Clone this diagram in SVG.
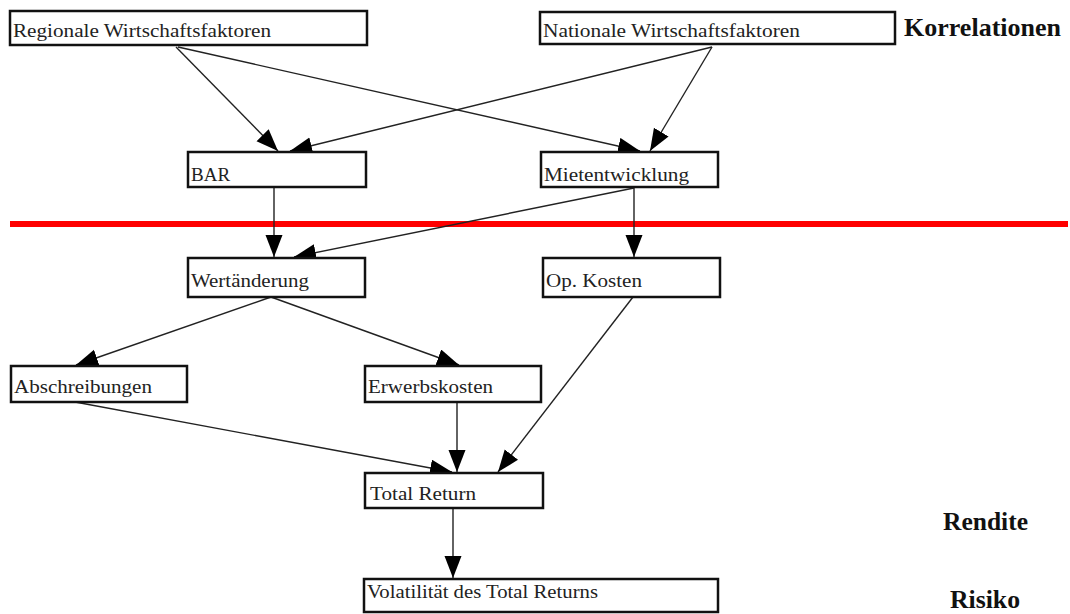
<svg xmlns="http://www.w3.org/2000/svg" width="1070" height="614" viewBox="0 0 1070 614">
<style>
  .box { fill: #fff; stroke: #111; stroke-width: 2.5; }
  .lbl { font-family: "Liberation Serif", "Times New Roman", serif; font-size: 19px; fill: #222; }
  .side { font-family: "Liberation Serif", "Times New Roman", serif; font-size: 25px; font-weight: bold; fill: #111; }
  .conn line { stroke: #222; stroke-width: 1.4; marker-end: url(#arr); }
</style>
<defs>
  <marker id="arr" markerUnits="userSpaceOnUse" markerWidth="24" markerHeight="20" refX="22" refY="8.5" orient="auto">
    <path d="M0,0 L22,8.5 L0,17 z" fill="#000"/>
  </marker>
</defs>
<rect width="1070" height="614" fill="#fff"/>

<line x1="10" y1="224" x2="1068" y2="224" stroke="#ff0000" stroke-width="6"/>

<g class="conn" id="connectors">
  <line x1="176" y1="47" x2="278" y2="151"/>
  <line x1="178" y1="47" x2="640" y2="151"/>
  <line x1="712" y1="47" x2="650" y2="151"/>
  <line x1="712" y1="47" x2="290" y2="151"/>
  <line x1="274" y1="188" x2="274" y2="257"/>
  <line x1="634" y1="188" x2="294" y2="257"/>
  <line x1="634" y1="188" x2="634" y2="257"/>
  <line x1="271" y1="297" x2="76" y2="365"/>
  <line x1="271" y1="297" x2="459" y2="365"/>
  <line x1="75" y1="402" x2="452" y2="472"/>
  <line x1="457" y1="402" x2="457" y2="472"/>
  <line x1="633" y1="297" x2="498" y2="472"/>
  <line x1="453" y1="508" x2="453" y2="578"/>
</g>

<g id="regional">
  <rect class="box" x="10" y="11" width="357" height="34"/>
  <text class="lbl" x="13" y="37" textLength="258" lengthAdjust="spacingAndGlyphs">Regionale Wirtschaftsfaktoren</text>
</g>
<g id="national">
  <rect class="box" x="540" y="12" width="355" height="32"/>
  <text class="lbl" x="543" y="37" textLength="257" lengthAdjust="spacingAndGlyphs">Nationale Wirtschaftsfaktoren</text>
</g>
<g id="bar">
  <rect class="box" x="188" y="152" width="178" height="35"/>
  <text class="lbl" x="191" y="181">BAR</text>
</g>
<g id="miete">
  <rect class="box" x="541" y="152" width="177" height="35"/>
  <text class="lbl" x="544" y="181" textLength="145" lengthAdjust="spacingAndGlyphs">Mietentwicklung</text>
</g>
<g id="wert">
  <rect class="box" x="188" y="258" width="177" height="39"/>
  <text class="lbl" x="191" y="287" textLength="118" lengthAdjust="spacingAndGlyphs">Wertänderung</text>
</g>
<g id="opkosten">
  <rect class="box" x="543" y="258" width="177" height="39"/>
  <text class="lbl" x="546" y="287" textLength="96" lengthAdjust="spacingAndGlyphs">Op. Kosten</text>
</g>
<g id="abschreibungen">
  <rect class="box" x="11" y="366" width="176" height="36"/>
  <text class="lbl" x="14" y="393" textLength="138" lengthAdjust="spacingAndGlyphs">Abschreibungen</text>
</g>
<g id="erwerbskosten">
  <rect class="box" x="365" y="366" width="176" height="36"/>
  <text class="lbl" x="368" y="393" textLength="125" lengthAdjust="spacingAndGlyphs">Erwerbskosten</text>
</g>
<g id="totalreturn">
  <rect class="box" x="365" y="473" width="178" height="35"/>
  <text class="lbl" x="370" y="500" textLength="106" lengthAdjust="spacingAndGlyphs">Total Return</text>
</g>
<g id="volatilitaet">
  <rect class="box" x="364" y="579" width="354" height="33"/>
  <text class="lbl" x="367" y="598" font-size="17" textLength="231" lengthAdjust="spacingAndGlyphs">Volatilität des Total Returns</text>
</g>

<text class="side" x="904" y="36" textLength="157" lengthAdjust="spacingAndGlyphs">Korrelationen</text>
<text class="side" x="943" y="530" textLength="85" lengthAdjust="spacingAndGlyphs">Rendite</text>
<text class="side" x="950" y="608" textLength="70" lengthAdjust="spacingAndGlyphs">Risiko</text>
</svg>
